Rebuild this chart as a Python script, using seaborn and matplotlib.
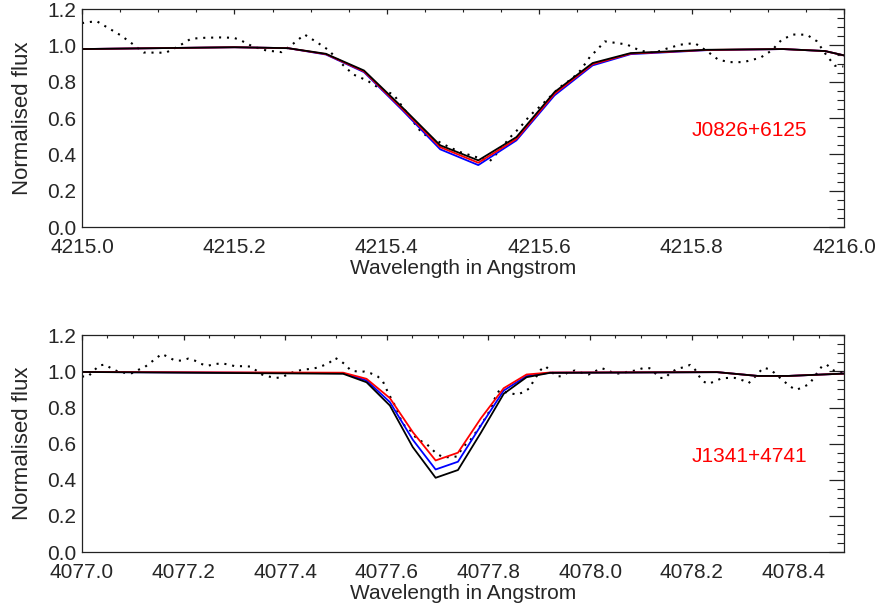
import matplotlib
matplotlib.use("Agg")
import matplotlib.pyplot as plt
from matplotlib.ticker import MultipleLocator
import seaborn as sns
import pandas as pd

# ---------------- data: J0826+6125 (top panel) ----------------
top_obs_wave = [4215.000, 4215.019, 4215.034, 4215.051, 4215.066, 4215.081, 4215.101, 4215.110,
                4215.126, 4215.143, 4215.161, 4215.181, 4215.199, 4215.207, 4215.224, 4215.242,
                4215.262, 4215.277, 4215.292, 4215.308, 4215.323, 4215.343, 4215.356, 4215.374,
                4215.391, 4215.409, 4215.435, 4215.446, 4215.479, 4215.496, 4215.535, 4215.544,
                4215.562, 4215.575, 4215.588, 4215.601, 4215.627, 4215.643, 4215.654, 4215.667,
                4215.675, 4215.686, 4215.702, 4215.715, 4215.732, 4215.750, 4215.767, 4215.785,
                4215.804, 4215.820, 4215.835, 4215.850, 4215.868, 4215.890, 4215.905, 4215.918,
                4215.933, 4215.951, 4215.964, 4215.977, 4215.988, 4215.999]
top_obs_flux = [1.123, 1.134, 1.097, 1.055, 1.009, 0.961, 0.960, 0.960,
                0.994, 1.037, 1.042, 1.044, 1.042, 1.031, 0.994, 0.972,
                0.963, 1.009, 1.060, 1.018, 0.976, 0.890, 0.840, 0.807,
                0.762, 0.729, 0.578, 0.517, 0.446, 0.413, 0.362, 0.404,
                0.495, 0.550, 0.615, 0.664, 0.770, 0.817, 0.862, 0.940,
                0.972, 1.022, 1.013, 1.005, 0.972, 0.958, 0.982, 1.004,
                1.013, 0.969, 0.921, 0.908, 0.908, 0.932, 0.972, 1.031,
                1.060, 1.059, 1.024, 0.945, 0.888, 0.884]

top_mod_wave = [4215.00, 4215.10, 4215.20, 4215.27, 4215.32, 4215.37, 4215.42, 4215.47,
                4215.52, 4215.57, 4215.62, 4215.67, 4215.72, 4215.82, 4215.92, 4215.975, 4216.00]
top_black = [0.980, 0.985, 0.990, 0.985, 0.954, 0.862, 0.660, 0.450,
             0.367, 0.495, 0.743, 0.903, 0.958, 0.976, 0.980, 0.969, 0.945]
top_red = [0.980, 0.985, 0.990, 0.985, 0.952, 0.857, 0.652, 0.440,
           0.354, 0.485, 0.734, 0.897, 0.955, 0.975, 0.980, 0.969, 0.945]
top_blue = [0.980, 0.985, 0.990, 0.985, 0.950, 0.853, 0.645, 0.428,
            0.341, 0.477, 0.725, 0.890, 0.952, 0.974, 0.980, 0.969, 0.945]

# ---------------- data: J1341+4741 (bottom panel) ----------------
bot_obs_wave = [4077.000, 4077.012, 4077.022, 4077.034, 4077.045, 4077.057, 4077.071, 4077.085,
                4077.098, 4077.111, 4077.123, 4077.134, 4077.146, 4077.157, 4077.170, 4077.183,
                4077.196, 4077.209, 4077.222, 4077.234, 4077.247, 4077.260, 4077.275, 4077.288,
                4077.301, 4077.318, 4077.331, 4077.343, 4077.354, 4077.367, 4077.382, 4077.394,
                4077.407, 4077.421, 4077.434, 4077.449, 4077.462, 4077.475, 4077.488, 4077.498,
                4077.508, 4077.519, 4077.529, 4077.543, 4077.556, 4077.568, 4077.582, 4077.592,
                4077.603, 4077.616, 4077.631, 4077.646, 4077.659, 4077.679, 4077.698, 4077.711,
                4077.724, 4077.738, 4077.751, 4077.764, 4077.787, 4077.803, 4077.813, 4077.821,
                4077.843, 4077.856, 4077.869, 4077.881, 4077.888, 4077.903, 4077.912, 4077.923,
                4077.934, 4077.945, 4077.957, 4077.970, 4077.984, 4077.997, 4078.010, 4078.023,
                4078.036, 4078.049, 4078.062, 4078.075, 4078.089, 4078.104, 4078.117, 4078.128,
                4078.138, 4078.148, 4078.157, 4078.171, 4078.184, 4078.197, 4078.207, 4078.215,
                4078.223, 4078.233, 4078.246, 4078.259, 4078.272, 4078.285, 4078.301, 4078.312,
                4078.321, 4078.331, 4078.341, 4078.351, 4078.363, 4078.374, 4078.384, 4078.394,
                4078.406, 4078.419, 4078.432, 4078.440, 4078.447, 4078.456, 4078.466, 4078.476,
                4078.489, 4078.499]
bot_obs_flux = [0.972, 0.972, 1.001, 1.033, 1.038, 1.018, 0.999, 0.992,
                0.990, 1.009, 1.023, 1.047, 1.073, 1.097, 1.079, 1.060,
                1.060, 1.071, 1.060, 1.042, 1.031, 1.040, 1.045, 1.038,
                1.029, 1.029, 1.027, 1.005, 0.983, 0.972, 0.964, 0.968,
                0.987, 1.001, 1.009, 1.014, 1.020, 1.033, 1.051, 1.075,
                1.060, 1.036, 1.005, 0.999, 0.999, 0.990, 0.972, 0.946,
                0.879, 0.811, 0.710, 0.673, 0.627, 0.596, 0.544, 0.525,
                0.525, 0.529, 0.585, 0.618, 0.710, 0.784, 0.854, 0.894,
                0.879, 0.872, 0.885, 0.907, 0.944, 1.009, 1.029, 1.001,
                0.973, 0.973, 0.996, 1.005, 0.992, 0.983, 1.001, 1.018,
                1.005, 0.987, 0.990, 0.999, 1.005, 1.018, 1.018, 0.990,
                0.964, 0.964, 0.990, 1.014, 1.023, 1.036, 1.009, 0.972,
                0.944, 0.931, 0.946, 0.962, 0.964, 0.964, 0.950, 0.935,
                0.959, 0.990, 1.020, 1.014, 0.992, 0.964, 0.940, 0.916,
                0.898, 0.913, 0.931, 0.964, 0.992, 1.027, 1.038, 1.009,
                0.996, 0.996]

bot_mod_wave = [4077.000, 4077.514, 4077.560, 4077.606, 4077.651, 4077.696, 4077.740, 4077.785,
                4077.830, 4077.875, 4077.921, 4078.250, 4078.330, 4078.390, 4078.500]
bot_black = [0.997, 0.987, 0.940, 0.811, 0.581, 0.411, 0.454, 0.660,
             0.876, 0.968, 0.992, 0.996, 0.975, 0.975, 0.988]
bot_red = [0.997, 0.993, 0.959, 0.852, 0.664, 0.507, 0.550, 0.740,
           0.907, 0.983, 0.994, 0.996, 0.975, 0.975, 0.988]
bot_blue = [0.997, 0.990, 0.950, 0.830, 0.622, 0.457, 0.500, 0.700,
            0.894, 0.974, 0.993, 0.996, 0.975, 0.975, 0.988]

panels = [
    dict(obs_w=top_obs_wave, obs_f=top_obs_flux, mod_w=top_mod_wave,
         black=top_black, red=top_red, blue=top_blue,
         xlim=(4215.0, 4216.0), name="J0826+6125"),
    dict(obs_w=bot_obs_wave, obs_f=bot_obs_flux, mod_w=bot_mod_wave,
         black=bot_black, red=bot_red, blue=bot_blue,
         xlim=(4077.0, 4078.5), name="J1341+4741"),
]

sns.set_theme(style="white")
plt.rcParams["font.family"] = ["Liberation Sans", "DejaVu Sans"]
plt.rcParams["axes.edgecolor"] = "#222222"
plt.rcParams["axes.linewidth"] = 0.9

fig = plt.figure(figsize=(8.81, 6.07), dpi=100)
rects = [[0.0931, 0.626, 0.865, 0.359], [0.0931, 0.0906, 0.865, 0.357]]

for rect, p in zip(rects, panels):
    ax = fig.add_axes(rect)
    ax.set_facecolor("white")
    obs = pd.DataFrame({"wave": p["obs_w"], "flux": p["obs_f"]})
    mod = pd.DataFrame({"wave": p["mod_w"], "black": p["black"],
                        "red": p["red"], "blue": p["blue"]})
    sns.lineplot(data=obs, x="wave", y="flux", ax=ax, color="black",
                 linewidth=1.5, estimator=None, sort=False,
                 linestyle=(0, (1, 2.8)))
    sns.lineplot(data=mod, x="wave", y="blue", ax=ax, color="#0000ff",
                 linewidth=1.3, estimator=None, sort=False)
    sns.lineplot(data=mod, x="wave", y="red", ax=ax, color="#ff0000",
                 linewidth=1.3, estimator=None, sort=False)
    sns.lineplot(data=mod, x="wave", y="black", ax=ax, color="black",
                 linewidth=1.3, estimator=None, sort=False)

    ax.set_xlim(*p["xlim"])
    ax.set_ylim(0.0, 1.2)
    ax.xaxis.set_major_locator(MultipleLocator(0.2))
    ax.xaxis.set_minor_locator(MultipleLocator(0.05))
    ax.yaxis.set_major_locator(MultipleLocator(0.2))
    ax.yaxis.set_minor_locator(MultipleLocator(0.05))
    ax.xaxis.set_major_formatter(matplotlib.ticker.FormatStrFormatter("%.1f"))
    ax.yaxis.set_major_formatter(matplotlib.ticker.FormatStrFormatter("%.1f"))
    ax.tick_params(axis="both", which="both", direction="in", top=True, right=True,
                   color="#222222", labelsize=15)
    ax.tick_params(axis="x", which="major", length=3.6, width=0.9, pad=8)
    ax.tick_params(axis="x", which="minor", length=1.9, width=0.8)
    ax.tick_params(axis="y", which="major", length=10.8, width=0.9, pad=4)
    ax.tick_params(axis="y", which="minor", length=5.0, width=0.8)
    for s in ax.spines.values():
        s.set_visible(True)
        s.set_color("#222222")
    ax.set_xlabel("Wavelength in Angstrom", fontsize=15, labelpad=1)
    ax.set_ylabel("Normalised flux", fontsize=16, labelpad=10)
    ax.text(0.80, 0.443, p["name"], transform=ax.transAxes, color="#ff0000",
            fontsize=15, ha="left", va="center")

fig.savefig("out.png", dpi=100, facecolor="white")
